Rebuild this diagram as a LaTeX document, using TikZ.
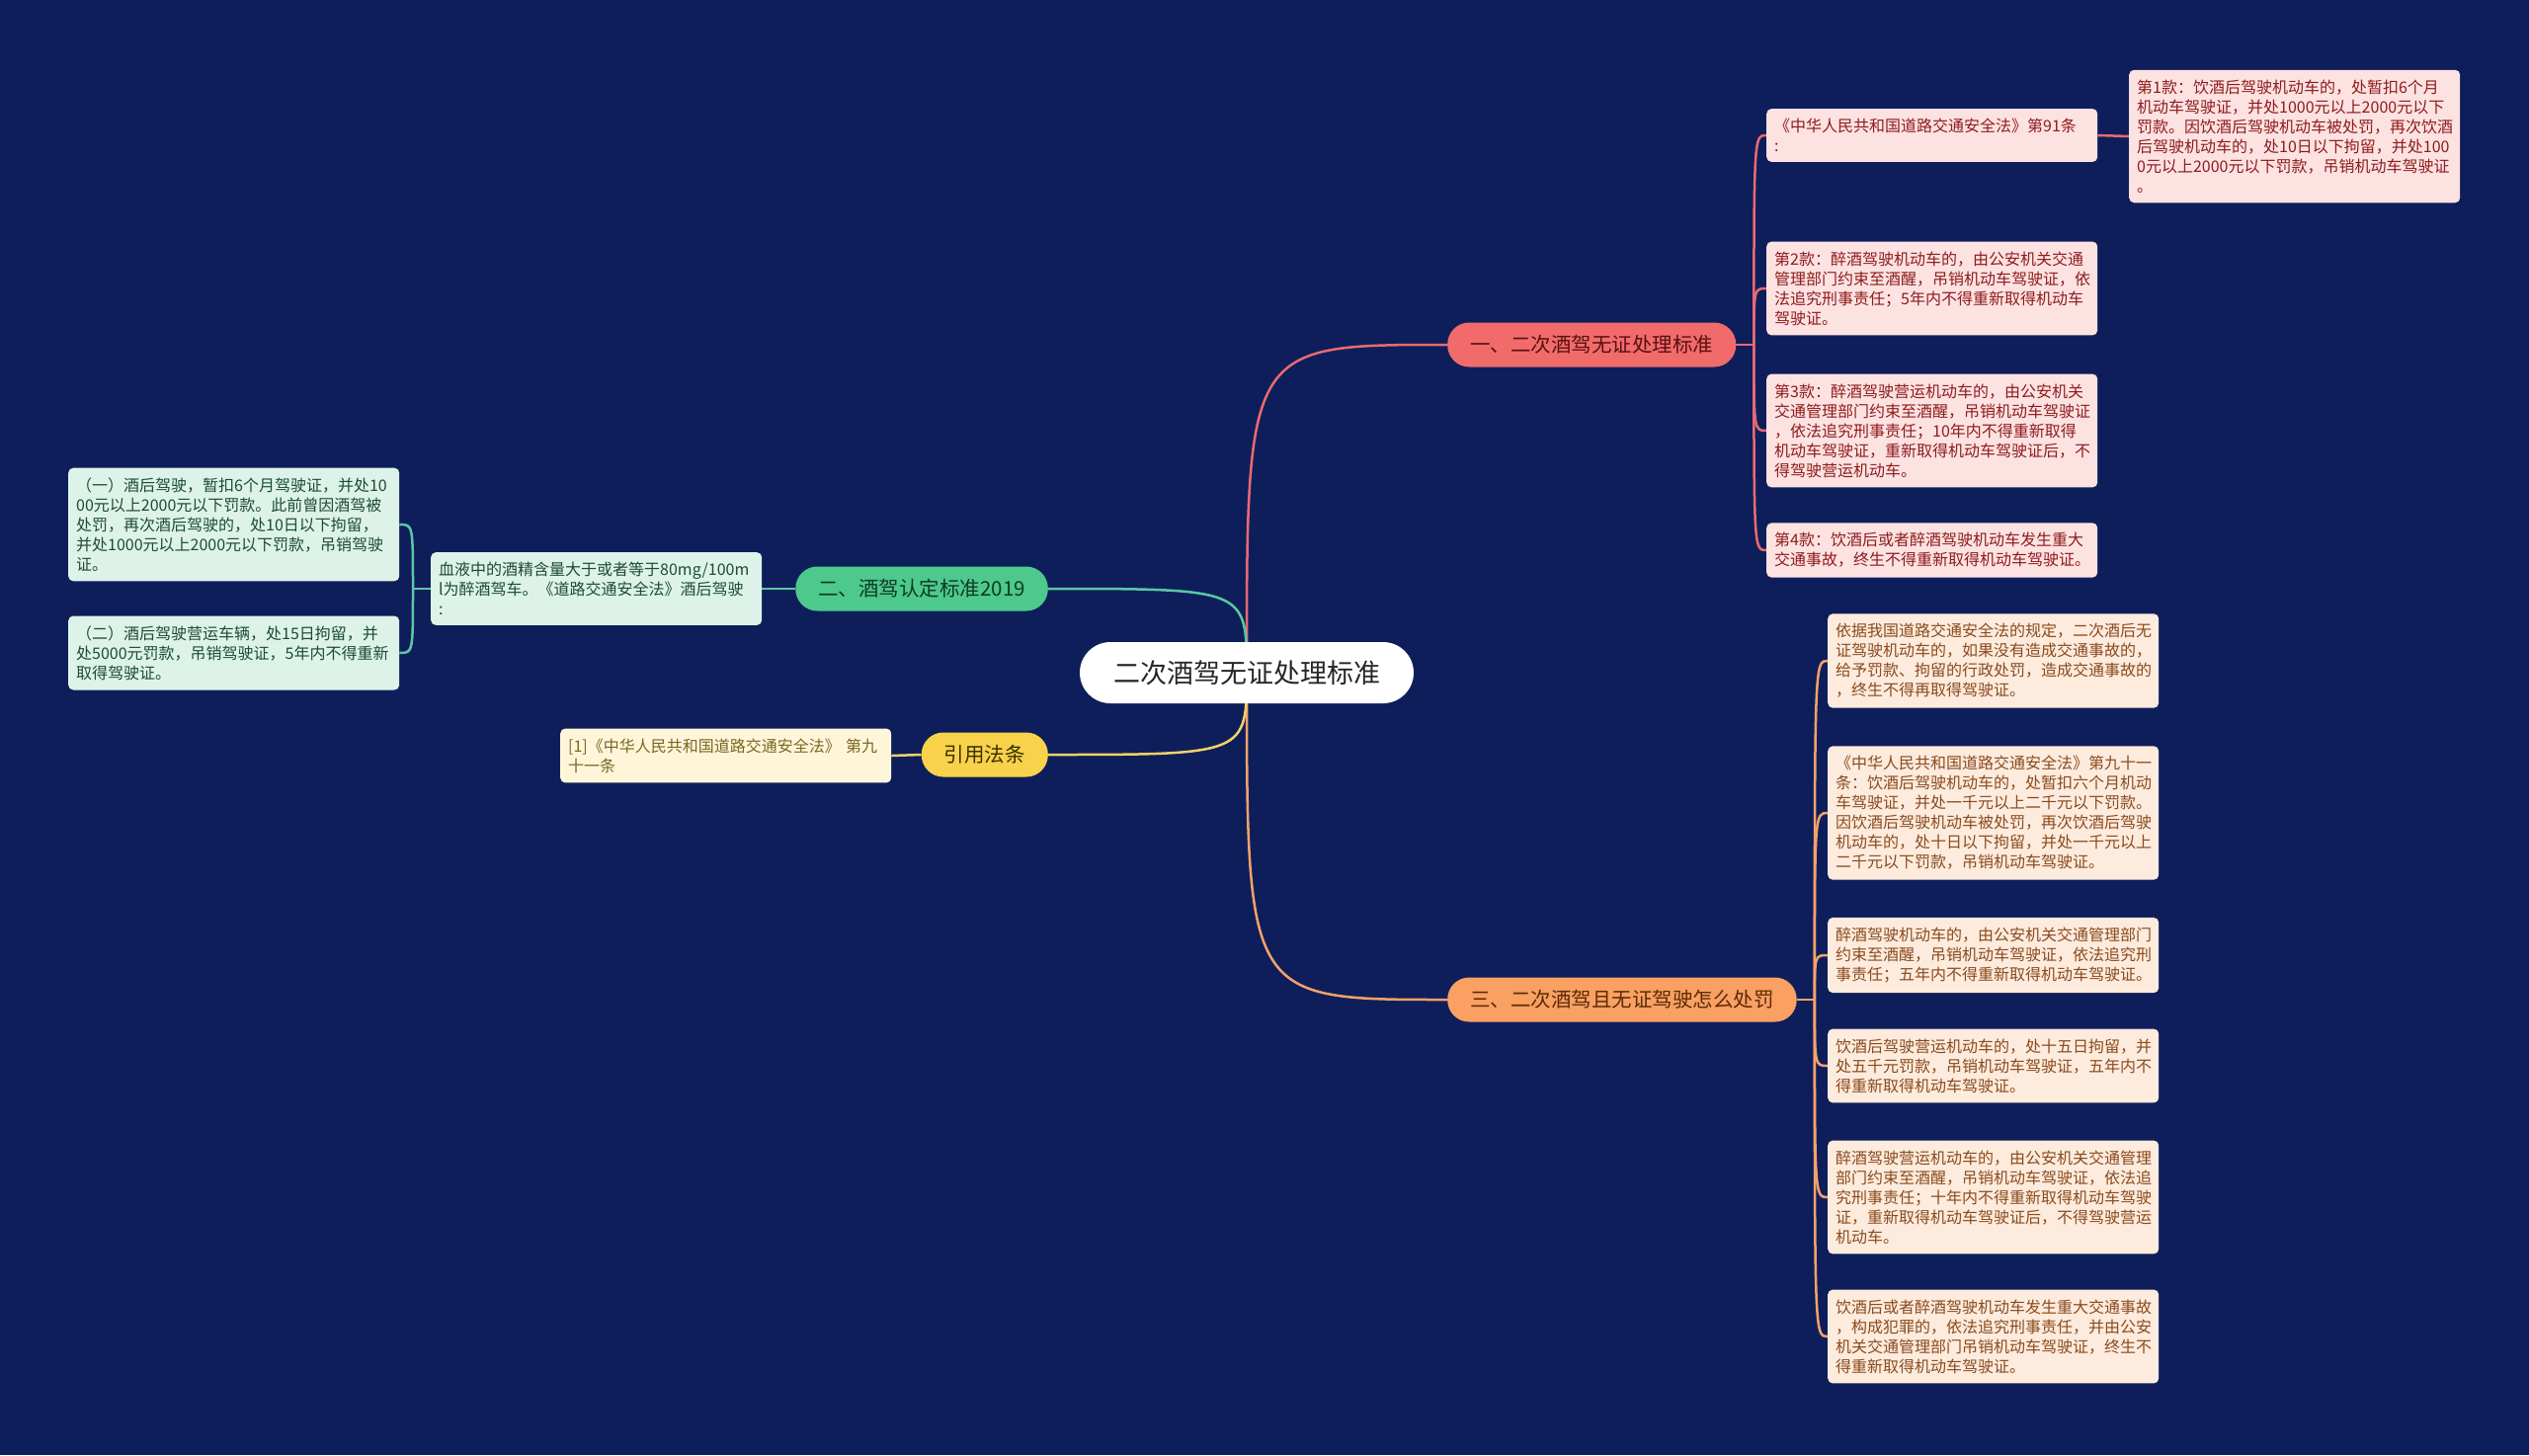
\documentclass[tikz,border=0pt]{standalone}
\usepackage{fontspec}
\setmainfont{Noto Sans CJK SC}
\usepackage{tikz}
\usetikzlibrary{calc}
\usetikzlibrary{backgrounds}
\pgfdeclarelayer{canvas}
\pgfsetlayers{canvas,background,main}
\definecolor{navy}{HTML}{0E1E5B}
\definecolor{redB}{HTML}{F26B6B}
\definecolor{redT}{HTML}{5A1010}
\definecolor{redL}{HTML}{FDE2E2}
\definecolor{redLT}{HTML}{8E1C1C}
\definecolor{redline}{HTML}{E96A70}
\definecolor{orB}{HTML}{F9A062}
\definecolor{orT}{HTML}{5A2A06}
\definecolor{orL}{HTML}{FDEBDD}
\definecolor{orLT}{HTML}{8A4B1E}
\definecolor{orline}{HTML}{F4A26A}
\definecolor{grB}{HTML}{4DC98B}
\definecolor{grT}{HTML}{0F3A24}
\definecolor{grL}{HTML}{DDF3E9}
\definecolor{grLT}{HTML}{1E4A38}
\definecolor{grline}{HTML}{5AC8A0}
\definecolor{yeB}{HTML}{F8D24B}
\definecolor{yeT}{HTML}{3B2E00}
\definecolor{yeL}{HTML}{FFF6DA}
\definecolor{yeLT}{HTML}{7B6622}
\definecolor{yeline}{HTML}{F4D264}
\tikzset{root/.style={rectangle,rounded corners=31pt,fill=white,text=black!85,minimum height=62pt,inner xsep=34pt,font=\fontsize{27}{32}\selectfont}}
\tikzset{branch/.style={rectangle,rounded corners=22pt,minimum height=45pt,inner xsep=23pt,font=\fontsize{20.5}{24}\selectfont}}
\tikzset{leaf/.style={rectangle,rounded corners=5pt,text width=319pt,inner xsep=8pt,inner ysep=10pt,align=left,font=\fontsize{16}{20}\selectfont}}
\tikzset{redleaf/.style={leaf,fill=redL,text=redLT}}
\tikzset{orleaf/.style={leaf,fill=orL,text=orLT}}
\tikzset{grleaf/.style={leaf,fill=grL,text=grLT}}
\tikzset{yeleaf/.style={leaf,fill=yeL,text=yeLT}}
\tikzset{link/.style={line width=2.5pt}}

\begin{document}
\begin{tikzpicture}[x=1pt,y=-1pt]
\useasboundingbox (0,0) rectangle (2560,1473);
\begin{pgfonlayer}{canvas}
\fill[navy] (0,0) rectangle (2560,1473);
\end{pgfonlayer}

\node[root] (root) at (1262,681) {二次酒驾无证处理标准};
\node[branch,fill=redB,text=redT,anchor=west] (B1) at (1465,349) {一、二次酒驾无证处理标准};
\node[branch,fill=orB,text=orT,anchor=west] (B3) at (1465,1012) {三、二次酒驾且无证驾驶怎么处罚};
\node[branch,fill=grB,text=grT,anchor=east] (B2) at (1061,596) {二、酒驾认定标准2019};
\node[branch,fill=yeB,text=yeT,anchor=east] (BY) at (1061,764) {引用法条};

\node[redleaf,anchor=west] (R91) at (1788,137) {《中华人民共和国道路交通安全法》第91条\\:};
\node[redleaf,anchor=west] (K1) at (2155,138) {第1款：饮酒后驾驶机动车的，处暂扣6个月\\机动车驾驶证，并处1000元以上2000元以下\\罚款。因饮酒后驾驶机动车被处罚，再次饮酒\\后驾驶机动车的，处10日以下拘留，并处100\\0元以上2000元以下罚款，吊销机动车驾驶证\\。};
\node[redleaf,anchor=west] (K2) at (1788,292) {第2款：醉酒驾驶机动车的，由公安机关交通\\管理部门约束至酒醒，吊销机动车驾驶证，依\\法追究刑事责任；5年内不得重新取得机动车\\驾驶证。};
\node[redleaf,anchor=west] (K3) at (1788,436) {第3款：醉酒驾驶营运机动车的，由公安机关\\交通管理部门约束至酒醒，吊销机动车驾驶证\\，依法追究刑事责任；10年内不得重新取得\\机动车驾驶证，重新取得机动车驾驶证后，不\\得驾驶营运机动车。};
\node[redleaf,anchor=west] (K4) at (1788,557) {第4款：饮酒后或者醉酒驾驶机动车发生重大\\交通事故，终生不得重新取得机动车驾驶证。};

\node[orleaf,anchor=west] (O1) at (1850,669) {依据我国道路交通安全法的规定，二次酒后无\\证驾驶机动车的，如果没有造成交通事故的，\\给予罚款、拘留的行政处罚，造成交通事故的\\，终生不得再取得驾驶证。};
\node[orleaf,anchor=west] (O2) at (1850,823) {《中华人民共和国道路交通安全法》第九十一\\条：饮酒后驾驶机动车的，处暂扣六个月机动\\车驾驶证，并处一千元以上二千元以下罚款。\\因饮酒后驾驶机动车被处罚，再次饮酒后驾驶\\机动车的，处十日以下拘留，并处一千元以上\\二千元以下罚款，吊销机动车驾驶证。};
\node[orleaf,anchor=west] (O3) at (1850,967) {醉酒驾驶机动车的，由公安机关交通管理部门\\约束至酒醒，吊销机动车驾驶证，依法追究刑\\事责任；五年内不得重新取得机动车驾驶证。};
\node[orleaf,anchor=west] (O4) at (1850,1079) {饮酒后驾驶营运机动车的，处十五日拘留，并\\处五千元罚款，吊销机动车驾驶证，五年内不\\得重新取得机动车驾驶证。};
\node[orleaf,anchor=west] (O5) at (1850,1212) {醉酒驾驶营运机动车的，由公安机关交通管理\\部门约束至酒醒，吊销机动车驾驶证，依法追\\究刑事责任；十年内不得重新取得机动车驾驶\\证，重新取得机动车驾驶证后，不得驾驶营运\\机动车。};
\node[orleaf,anchor=west] (O6) at (1850,1353) {饮酒后或者醉酒驾驶机动车发生重大交通事故\\，构成犯罪的，依法追究刑事责任，并由公安\\机关交通管理部门吊销机动车驾驶证，终生不\\得重新取得机动车驾驶证。};

\node[grleaf,anchor=west] (G1) at (436,596) {血液中的酒精含量大于或者等于80mg/100m\\l为醉酒驾车。《道路交通安全法》酒后驾驶\\:};
\node[grleaf,anchor=west] (G2) at (69,531) {（一）酒后驾驶，暂扣6个月驾驶证，并处10\\00元以上2000元以下罚款。此前曾因酒驾被\\处罚，再次酒后驾驶的，处10日以下拘留，\\并处1000元以上2000元以下罚款，吊销驾驶\\证。};
\node[grleaf,anchor=west] (G3) at (69,661) {（二）酒后驾驶营运车辆，处15日拘留，并\\处5000元罚款，吊销驾驶证，5年内不得重新\\取得驾驶证。};

\node[yeleaf,anchor=west] (Y1) at (567,765) {[1]《中华人民共和国道路交通安全法》 第九\\十一条};

\begin{scope}[on background layer]
\foreach \br/\col in {B1/redline,B3/orline} {
	\draw[link,\col] (root.center) .. controls (root.center |- \br.west) .. (\br.west);
}
\foreach \br/\col in {B2/grline,BY/yeline} {
	\draw[link,\col] (root.center) .. controls (root.center |- \br.east) .. (\br.east);
}
\coordinate (t1) at ($(B1.east)+(18,0)$);
\draw[link,redline] (B1.east) -- (t1);
\foreach \i in {R91,K2,K3,K4} {
	\draw[link,redline] (t1) .. controls (t1 |- \i.west) .. (\i.west);
}
\draw[link,redline] (R91.east) -- (K1.west);
\coordinate (t3) at ($(B3.east)+(18,0)$);
\draw[link,orline] (B3.east) -- (t3);
\foreach \i in {O1,O2,O3,O4,O5,O6} {
	\draw[link,orline] (t3) .. controls (t3 |- \i.west) .. (\i.west);
}
\draw[link,grline] (B2.west) -- (G1.east);
\coordinate (t2) at ($(G1.west)+(-18,0)$);
\draw[link,grline] (G1.west) -- (t2);
\foreach \i in {G2,G3} {
	\draw[link,grline] (t2) .. controls (t2 |- \i.east) .. (\i.east);
}
\draw[link,yeline] (BY.west) -- (Y1.east);
\end{scope}
\end{tikzpicture}
\end{document}
